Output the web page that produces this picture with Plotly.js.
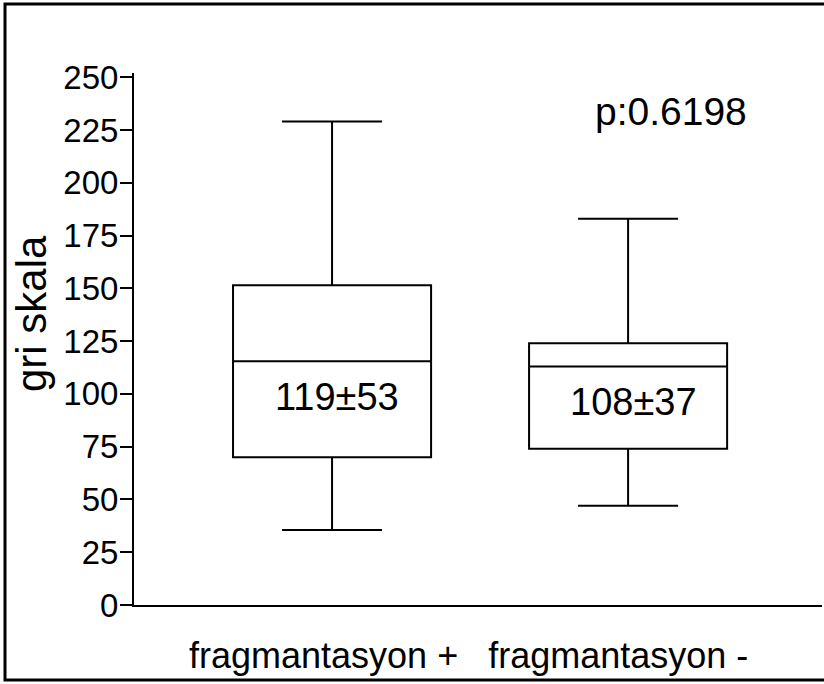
<!DOCTYPE html>
<html>
<head>
<meta charset="utf-8">
<script src="https://cdn.plot.ly/plotly-3.0.1.min.js"></script>
<style>
  html, body { margin: 0; padding: 0; background: #fff; }
  #chart { width: 824px; height: 684px; }
</style>
</head>
<body>
<div id="chart"></div>
<script>
// ---- data ----
const categories = ["fragmantasyon +", "fragmantasyon -"];
const lowerWhisker = [35.5, 47];
const q1Values = [70, 74];
const medianValues = [115.5, 113];
const q3Values = [151.5, 124];
const upperWhisker = [229, 183];
const meanSdLabels = ["119±53", "108±37"];
const meanSdLabelY = [98.5, 96];
const pValueLabel = "p:0.6198";
const yTickValues = [0, 25, 50, 75, 100, 125, 150, 175, 200, 225, 250];
const yTitle = "gri skala";
const xTitle = "fragmantasyon +   fragmantasyon -";

// ---- layout helpers (pixel geometry) ----
const W = 824, H = 684;
const M = { l: 134, r: 2, t: 73, b: 79 };
const pw = W - M.l - M.r, ph = H - M.t - M.b;
const px = x => (x - M.l) / pw;          // pixel x -> paper x
const py = y => (H - M.b - y) / ph;      // pixel y -> paper y

const FONT = "Liberation Sans, Arial, sans-serif";

const trace = {
  type: "box",
  x: categories,
  q1: q1Values,
  median: medianValues,
  q3: q3Values,
  lowerfence: lowerWhisker,
  upperfence: upperWhisker,
  boxpoints: false,
  width: 0.669,
  whiskerwidth: 0.505,
  fillcolor: "#ffffff",
  line: { color: "#000000", width: 2 },
  hoverinfo: "skip",
  showlegend: false
};

const annotations = categories.map((c, i) => ({
  x: c, y: meanSdLabelY[i], xref: "x", yref: "y",
  xanchor: "center", yanchor: "middle",
  text: meanSdLabels[i], showarrow: false, xshift: 5,
  font: { family: FONT, size: 38, color: "#000" }
}));
annotations.push({
  x: 1.145, y: 234, xref: "x", yref: "y", text: pValueLabel, showarrow: false,
  xanchor: "center", yanchor: "middle",
  font: { family: FONT, size: 39, color: "#000" }
});
annotations.push({
  x: px(31), y: py(314), xref: "paper", yref: "paper", text: yTitle, showarrow: false,
  xanchor: "center", yanchor: "middle",
  textangle: -90,
  font: { family: FONT, size: 42, color: "#000" }
});
annotations.push({
  x: px(468), y: py(655), xref: "paper", yref: "paper", text: xTitle, showarrow: false,
  xanchor: "center", yanchor: "middle",
  font: { family: FONT, size: 36, color: "#000" }
});

const layout = {
  width: W, height: H,
  margin: M,
  paper_bgcolor: "#fff", plot_bgcolor: "#fff",
  xaxis: {
    type: "category",
    range: [-0.669, 1.655],
    showticklabels: false, ticks: "", showgrid: false, zeroline: false,
    showline: true, linecolor: "#000", linewidth: 2
  },
  yaxis: {
    range: [0, 252],
    tickmode: "array", tickvals: yTickValues,
    ticks: "outside", ticklen: 12, tickwidth: 2, tickcolor: "#000",
    ticklabelstandoff: -5,
    showgrid: false, zeroline: false,
    showline: true, linecolor: "#000", linewidth: 2,
    tickfont: { family: FONT, size: 33, color: "#000" }
  },
  annotations: annotations,
  shapes: [{
    type: "rect", xref: "paper", yref: "paper",
    x0: px(5), x1: px(830), y0: py(680), y1: py(4),
    line: { color: "#000", width: 3 }, fillcolor: "rgba(0,0,0,0)", layer: "above"
  }]
};

Plotly.newPlot("chart", [trace], layout, { displayModeBar: false, staticPlot: true });
</script>
</body>
</html>
